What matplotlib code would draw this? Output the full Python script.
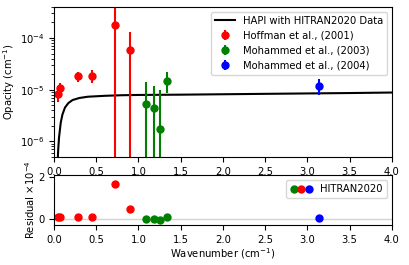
import numpy as np
import matplotlib
matplotlib.use("Agg")
import matplotlib.pyplot as plt
from matplotlib.legend_handler import HandlerTuple

# HAPI curve
hapi_x = [0.045, 0.05, 0.06, 0.08, 0.10, 0.13, 0.17, 0.22, 0.30, 0.40, 0.60, 0.80,
          1.0, 1.5, 2.0, 2.5, 3.0, 3.5, 4.0]
hapi_y = [4.5e-7, 7e-7, 1.2e-6, 2.3e-6, 3.3e-6, 4.5e-6, 5.5e-6, 6.3e-6, 6.9e-6, 7.3e-6,
          7.6e-6, 7.8e-6, 7.9e-6, 8.0e-6, 8.15e-6, 8.3e-6, 8.45e-6, 8.6e-6, 8.8e-6]

# Hoffman et al. (2001)
hof_x = [0.05, 0.07, 0.28, 0.45, 0.72, 0.90]
hof_y = [8.2e-6, 1.1e-5, 1.8e-5, 1.85e-5, 1.78e-4, 5.8e-5]
hof_err = [2.5e-6, 2.5e-6, 4e-6, 5e-6, 3e-4, 7.5e-5]
hof_res = [0.07, 0.08, 0.10, 0.10, 1.65, 0.48]

# Mohammed et al. (2003)
moh3_x = [1.09, 1.19, 1.26, 1.34]
moh3_y = [5.3e-6, 4.5e-6, 1.75e-6, 1.5e-5]
moh3_err = [8.7e-6, 7.5e-6, 8.3e-6, 6.5e-6]
moh3_res = [-0.03, -0.03, -0.05, 0.07]

# Mohammed et al. (2004)
moh4_x = [3.14]
moh4_y = [1.2e-5]
moh4_err = [4e-6]
moh4_res = [0.04]

plt.rcParams['font.size'] = 7.2
fig = plt.figure(figsize=(4.09, 2.65), dpi=100)
ax1 = fig.add_axes([0.132, 0.408, 0.826, 0.566])
ax2 = fig.add_axes([0.132, 0.151, 0.826, 0.189])

ax1.plot(hapi_x, hapi_y, color='black', lw=1.5, label='HAPI with HITRAN2020 Data')
ax1.errorbar(hof_x, hof_y, yerr=hof_err, fmt='o', color='red', ms=5, elinewidth=1.5,
             label='Hoffman et al., (2001)')
ax1.errorbar(moh3_x, moh3_y, yerr=moh3_err, fmt='o', color='green', ms=5, elinewidth=1.5,
             label='Mohammed et al., (2003)')
ax1.errorbar(moh4_x, moh4_y, yerr=moh4_err, fmt='o', color='blue', ms=5, elinewidth=1.5,
             label='Mohammed et al., (2004)')
ax1.set_yscale('log')
ax1.set_ylim(5e-7, 4e-4)
ax1.set_xlim(0, 4)
ax1.set_ylabel('Opacity (cm$^{-1}$)', labelpad=2)
ax1.legend(loc='upper right', fontsize=7.2)

ax2.axhline(0, color='lightgray', lw=1, zorder=0)
p_g = ax2.scatter(moh3_x, moh3_res, color='green', s=25)
p_r = ax2.scatter(hof_x, hof_res, color='red', s=25)
p_b = ax2.scatter(moh4_x, moh4_res, color='blue', s=25)
ax2.set_xlim(0, 4)
ax2.set_ylim(-0.3, 2.1)
ax2.set_yticks([0, 2])
ax2.set_ylabel('Residual $\\times10^{-4}$', labelpad=1)
ax2.set_xlabel('Wavenumber (cm$^{-1}$)', labelpad=1)
ax2.legend([(p_g, p_r, p_b)], ['HITRAN2020'], handler_map={tuple: HandlerTuple(ndivide=None, pad=0)},
           loc='upper right', fontsize=7.2, handlelength=2.2)

fig.savefig('out.png', dpi=100)
